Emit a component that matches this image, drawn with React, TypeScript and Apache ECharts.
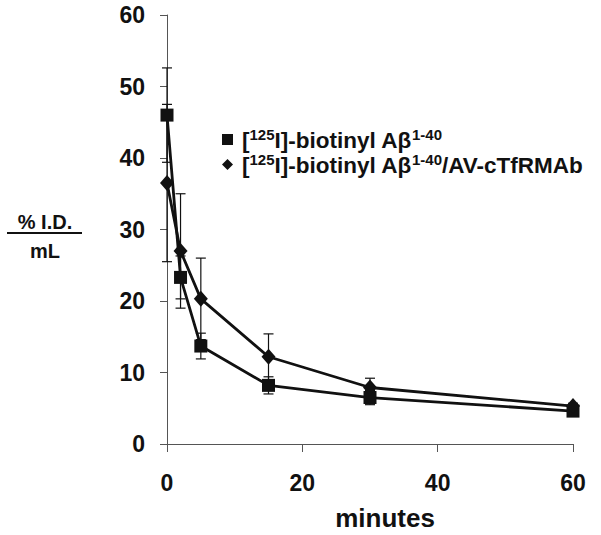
import React, { useEffect, useRef } from "react";
import * as echarts from "echarts";

const times = [0, 2, 5, 15, 30, 60];
const abeta = [46.0, 23.3, 13.7, 8.2, 6.5, 4.6];
const abetaErr = [6.6, 3.0, 1.8, 1.2, 1.0, 0.4];
const abetaAv = [36.5, 27.0, 20.3, 12.2, 7.9, 5.3];
const abetaAvErr = [11.0, 8.0, 5.7, 3.2, 1.3, 0.4];
const seriesNames = ["[125I]-biotinyl Aβ1-40", "[125I]-biotinyl Aβ1-40/AV-cTfRMAb"];
const legendRich = [
  "{n|[}{s|125}{n|I]-biotinyl Aβ}{s|1-40}",
  "{n|[}{s|125}{n|I]-biotinyl Aβ}{s|1-40}{n|/AV-cTfRMAb}",
];

const FONT = "Liberation Sans, Arial, sans-serif";

function errorSeries(name: string, vals: number[], errs: number[]) {
  return {
    type: "custom",
    name: name + " err",
    silent: true,
    z: 1,
    data: times.map((t, i) => [t, vals[i] - errs[i], vals[i] + errs[i]]),
    renderItem: (params: any, api: any) => {
      const x = api.value(0);
      const lo = api.coord([x, api.value(1)]);
      const hi = api.coord([x, api.value(2)]);
      const hw = 5;
      const style = { stroke: "#111", lineWidth: 1.2 };
      return {
        type: "group",
        children: [
          { type: "line", shape: { x1: lo[0], y1: lo[1], x2: hi[0], y2: hi[1] }, style },
          { type: "line", shape: { x1: lo[0] - hw, y1: lo[1], x2: lo[0] + hw, y2: lo[1] }, style },
          { type: "line", shape: { x1: hi[0] - hw, y1: hi[1], x2: hi[0] + hw, y2: hi[1] }, style },
        ],
      };
    },
  };
}

export default function App() {
  const ref = useRef<HTMLDivElement>(null);
  useEffect(() => {
    if (!ref.current) return;
    const chart = echarts.init(ref.current, null, { renderer: "svg" });
    chart.setOption({
      animation: false,
      backgroundColor: "#fff",
      textStyle: { fontFamily: FONT },
      grid: { left: 167, right: 28, top: 15, bottom: 91, containLabel: false },
      xAxis: {
        type: "value",
        min: 0,
        max: 60,
        interval: 20,
        axisLine: { show: true, lineStyle: { color: "#555", width: 1 } },
        axisTick: { show: true, inside: false, length: 8, lineStyle: { color: "#555" } },
        splitLine: { show: false },
        axisLabel: { margin: 27, fontSize: 23, fontWeight: "bold", color: "#111", fontFamily: FONT },
      },
      yAxis: {
        type: "value",
        min: 0,
        max: 60,
        interval: 10,
        axisLine: { show: true, lineStyle: { color: "#555", width: 1 } },
        axisTick: { show: true, inside: false, length: 7, lineStyle: { color: "#555" } },
        splitLine: { show: false },
        axisLabel: { margin: 22, fontSize: 23, fontWeight: "bold", color: "#111", fontFamily: FONT },
      },
      legend: {
        orient: "vertical",
        left: 222,
        top: 127,
        padding: 0,
        itemGap: 0,
        itemWidth: 11,
        itemHeight: 11,
        selectedMode: false,
        data: [
          { name: seriesNames[0], icon: "rect" },
          { name: seriesNames[1], icon: "diamond" },
        ],
        formatter: (name: string) => legendRich[seriesNames.indexOf(name)],
        textStyle: {
          color: "#111",
          padding: [0, 0, 0, 4],
          rich: {
            n: { fontSize: 22.5, fontWeight: "bold", fontFamily: FONT, color: "#111", lineHeight: 25, verticalAlign: "bottom" },
            s: { fontSize: 15, fontWeight: "bold", fontFamily: FONT, color: "#111", lineHeight: 15, verticalAlign: "top" },
          },
        },
      },
      graphic: [
        {
          type: "text",
          x: 385,
          y: 518,
          style: { text: "minutes", fontSize: 26, fontWeight: "bold", fill: "#111", fontFamily: FONT, align: "center", verticalAlign: "middle" },
        },
        {
          type: "text",
          x: 45,
          y: 222,
          style: { text: "% I.D.", fontSize: 20, fontWeight: "bold", fill: "#111", fontFamily: FONT, align: "center", verticalAlign: "middle" },
        },
        {
          type: "line",
          shape: { x1: 7, y1: 233, x2: 82, y2: 233 },
          style: { stroke: "#111", lineWidth: 2 },
        },
        {
          type: "text",
          x: 45,
          y: 251,
          style: { text: "mL", fontSize: 20, fontWeight: "bold", fill: "#111", fontFamily: FONT, align: "center", verticalAlign: "middle" },
        },
      ],
      series: [
        errorSeries(seriesNames[0], abeta, abetaErr),
        errorSeries(seriesNames[1], abetaAv, abetaAvErr),
        {
          name: seriesNames[0],
          type: "line",
          z: 3,
          data: times.map((t, i) => [t, abeta[i]]),
          symbol: "rect",
          symbolSize: 13,
          itemStyle: { color: "#111" },
          lineStyle: { color: "#111", width: 2.8 },
        },
        {
          name: seriesNames[1],
          type: "line",
          z: 3,
          data: times.map((t, i) => [t, abetaAv[i]]),
          symbol: "diamond",
          symbolSize: [14, 16],
          itemStyle: { color: "#111" },
          lineStyle: { color: "#111", width: 2.8 },
        },
      ],
    });
    return () => chart.dispose();
  }, []);
  return <div ref={ref} style={{ position: "fixed", left: 0, top: 0, width: 601, height: 535 }} />;
}
